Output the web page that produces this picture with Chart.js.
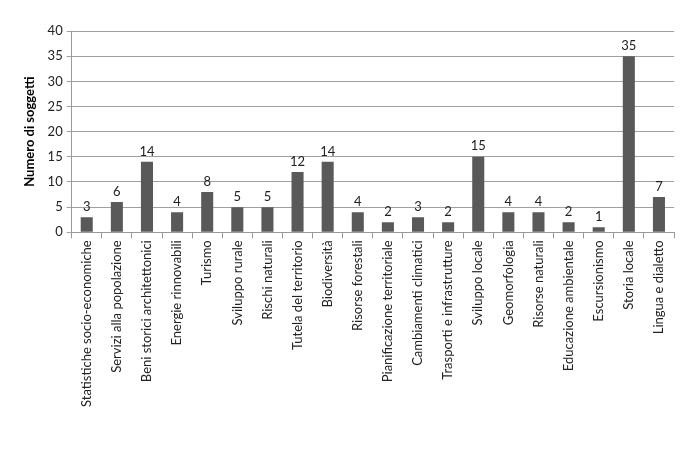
<!DOCTYPE html>
<html>
<head>
<meta charset="utf-8">
<script src="https://cdn.jsdelivr.net/npm/chart.js@4/dist/chart.umd.min.js"></script>
<style>
  html, body { margin: 0; padding: 0; background: #fff; }
  #wrap { width: 690px; height: 456px; }
</style>
</head>
<body>
<div id="wrap"><canvas id="chart" width="690" height="456"></canvas></div>
<script>
const categories = [
    'Statistiche socio-economiche', 'Servizi alla popolazione', 'Beni storici architettonici',
    'Energie rinnovabili', 'Turismo', 'Sviluppo rurale', 'Rischi naturali',
    'Tutela del territorio', 'Biodiversità', 'Risorse forestali',
    'Pianificazione territoriale', 'Cambiamenti climatici', 'Trasporti e infrastrutture',
    'Sviluppo locale', 'Geomorfologia', 'Risorse naturali', 'Educazione ambientale',
    'Escursionismo', 'Storia locale', 'Lingua e dialetto'
];
const counts = [3, 6, 14, 4, 8, 5, 5, 12, 14, 4, 2, 3, 2, 15, 4, 4, 2, 1, 35, 7];
const yTicks = [0, 5, 10, 15, 20, 25, 30, 35, 40];

const fontFamily = 'Lato, "Liberation Sans", sans-serif';

// Draw the value above each bar
const valueLabels = {
    id: 'valueLabels',
    afterDatasetsDraw(chart) {
        const ctx = chart.ctx;
        const meta = chart.getDatasetMeta(0);
        ctx.save();
        ctx.font = '13px ' + fontFamily;
        ctx.fillStyle = '#222';
        ctx.textAlign = 'center';
        ctx.textBaseline = 'bottom';
        meta.data.forEach((bar, i) => {
            ctx.fillText(counts[i], bar.x, bar.y - 4);
        });
        ctx.restore();
    }
};

const ctx = document.getElementById('chart').getContext('2d');
new Chart(ctx, {
    type: 'bar',
    data: {
        labels: categories,
        datasets: [{
            data: counts,
            backgroundColor: '#595959',
            borderWidth: 0,
            barPercentage: 0.4,
            categoryPercentage: 1.0
        }]
    },
    options: {
        responsive: false,
        animation: false,
        layout: { padding: { top: 31, right: 16, bottom: 47, left: 22 } },
        plugins: {
            legend: { display: false },
            tooltip: { enabled: false }
        },
        scales: {
            x: {
                grid: {
                    display: true,
                    drawOnChartArea: false,
                    offset: true,
                    color: '#999',
                    tickLength: 6
                },
                border: { color: '#999' },
                ticks: {
                    color: '#222',
                    font: { size: 13, family: fontFamily },
                    minRotation: 90,
                    maxRotation: 90,
                    autoSkip: false,
                    padding: 2
                }
            },
            y: {
                min: 0,
                max: 40,
                afterBuildTicks(axis) {
                    axis.ticks = yTicks.map(v => ({ value: v }));
                },
                grid: {
                    color: '#a0a0a0',
                    tickLength: 5
                },
                border: { color: '#999' },
                ticks: {
                    color: '#222',
                    font: { size: 13, family: fontFamily },
                    padding: 4
                },
                title: {
                    display: true,
                    text: 'Numero di soggetti',
                    color: '#000',
                    font: { size: 13, weight: 'bold', family: fontFamily },
                    padding: { top: 0, bottom: 6 }
                }
            }
        }
    },
    plugins: [valueLabels]
});
</script>
</body>
</html>
